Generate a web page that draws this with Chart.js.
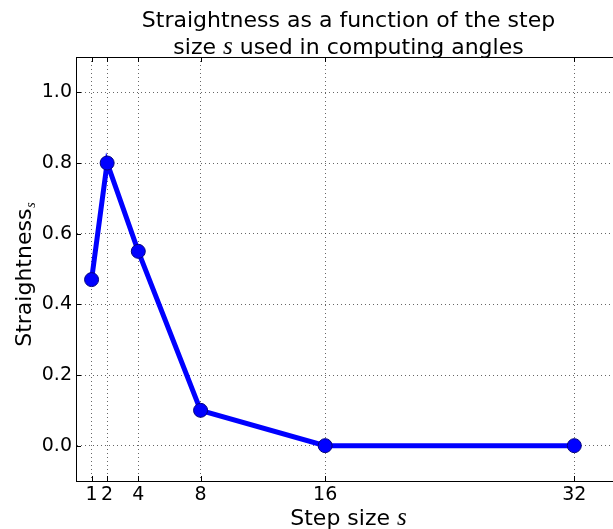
<!DOCTYPE html>
<html>
<head>
<meta charset="utf-8">
<script src="https://cdn.jsdelivr.net/npm/chart.js@4/dist/chart.umd.min.js"></script>
<style>
  html, body { margin: 0; padding: 0; overflow: hidden; background: #fff; }
  canvas { display: block; }
</style>
</head>
<body>
<canvas id="chart" width="640" height="529"></canvas>
<script>
// Data
const stepSizes = [1, 2, 4, 8, 16, 32];
const straightness = [0.47, 0.80, 0.55, 0.10, 0.00, 0.00];
const xTickValues = [1, 2, 4, 8, 16, 32];
const yTickValues = [0.0, 0.2, 0.4, 0.6, 0.8, 1.0];

// Text pieces: [text, isMathItalic]
const titleLine1 = [['Straightness as a function of the step', false]];
const titleLine2 = [['size ', false], ['s', true], [' used in computing angles', false]];
const xLabelParts = [['Step size ', false], ['s', true]];
const yLabelMain = 'Straightness';
const yLabelSub = 's';

const FONT = '"DejaVu Sans", sans-serif';
const MATH = '"Liberation Serif", "DejaVu Serif", serif';

function setFont(ctx, italic, size) {
  ctx.font = italic ? `italic ${Math.round(size * 1.15)}px ${MATH}` : `${size}px ${FONT}`;
}

// draw a line of mixed text centered at cx, alphabetic baseline at y
function drawMixed(ctx, parts, cx, y, size) {
  let total = 0;
  const widths = parts.map(([t, it]) => {
    setFont(ctx, it, size);
    const w = ctx.measureText(t).width;
    total += w;
    return w;
  });
  let x = cx - total / 2;
  parts.forEach(([t, it], i) => {
    setFont(ctx, it, size);
    ctx.fillText(t, x, y);
    x += widths[i];
  });
}

// Frame, inward ticks and text labels, matplotlib style
const decorations = {
  id: 'decorations',
  afterDraw(chart) {
    const { ctx, chartArea: a, scales } = chart;
    ctx.save();
    ctx.strokeStyle = '#000';
    ctx.lineWidth = 1;
    ctx.strokeRect(a.left + 0.5, a.top + 0.5, a.right - a.left, a.bottom - a.top);

    // inward tick marks
    ctx.beginPath();
    xTickValues.forEach(v => {
      const px = Math.round(scales.x.getPixelForValue(v)) + 0.5;
      ctx.moveTo(px, a.bottom); ctx.lineTo(px, a.bottom - 5);
      ctx.moveTo(px, a.top); ctx.lineTo(px, a.top + 5);
    });
    yTickValues.forEach(v => {
      const py = Math.round(scales.y.getPixelForValue(v)) + 0.5;
      ctx.moveTo(a.left, py); ctx.lineTo(a.left + 5, py);
      ctx.moveTo(a.right, py); ctx.lineTo(a.right - 5, py);
    });
    ctx.stroke();

    ctx.fillStyle = '#000';
    ctx.textBaseline = 'alphabetic';
    ctx.textAlign = 'left';
    const cx = (a.left + a.right) / 2;
    drawMixed(ctx, titleLine1, cx, 27, 22);
    drawMixed(ctx, titleLine2, cx, 54, 22);
    drawMixed(ctx, xLabelParts, cx, 525, 22);

    // y axis label, rotated
    ctx.translate(31, 275);
    ctx.rotate(-Math.PI / 2);
    setFont(ctx, false, 22);
    const wMain = ctx.measureText(yLabelMain).width;
    ctx.font = `italic 14px ${MATH}`;
    const wSub = ctx.measureText(yLabelSub).width;
    const x = -(wMain + wSub) / 2;
    setFont(ctx, false, 22);
    ctx.fillText(yLabelMain, x, 0);
    ctx.font = `italic 14px ${MATH}`;
    ctx.fillText(yLabelSub, x + wMain + 1, 4);
    ctx.restore();
  }
};

const gridOpts = { color: '#000', lineWidth: 0.6, drawTicks: false };
const borderOpts = { display: true, color: '#000', width: 1, dash: [1, 3] };

new Chart(document.getElementById('chart'), {
  type: 'line',
  data: {
    datasets: [{
      data: stepSizes.map((s, i) => ({ x: s, y: straightness[i] })),
      borderColor: '#0000ff',
      borderWidth: 5,
      backgroundColor: '#0000ff',
      pointBackgroundColor: '#0000ff',
      pointBorderColor: '#000080',
      pointBorderWidth: 1,
      pointRadius: 7,
      pointHoverRadius: 7,
      tension: 0,
      fill: false
    }]
  },
  options: {
    responsive: false,
    animation: false,
    layout: { padding: { top: 57, left: 0, right: 19, bottom: 0 } },
    plugins: {
      legend: { display: false },
      title: { display: false },
      tooltip: { enabled: false }
    },
    scales: {
      x: {
        type: 'linear',
        min: 0,
        max: 35,
        grid: gridOpts,
        border: borderOpts,
        afterBuildTicks: scale => { scale.ticks = xTickValues.map(v => ({ value: v })); },
        afterFit: scale => { scale.height = 48; },
        ticks: {
          autoSkip: false,
          maxRotation: 0,
          padding: 3,
          color: '#000',
          font: { family: 'DejaVu Sans', size: 19 },
          callback: v => String(v)
        }
      },
      y: {
        type: 'linear',
        min: -0.1,
        max: 1.1,
        grid: gridOpts,
        border: borderOpts,
        afterBuildTicks: scale => { scale.ticks = yTickValues.map(v => ({ value: v })); },
        afterFit: scale => { scale.width = 76; },
        ticks: {
          padding: 4,
          color: '#000',
          font: { family: 'DejaVu Sans', size: 19 },
          callback: v => v.toFixed(1)
        }
      }
    }
  },
  plugins: [decorations]
});
</script>
</body>
</html>
